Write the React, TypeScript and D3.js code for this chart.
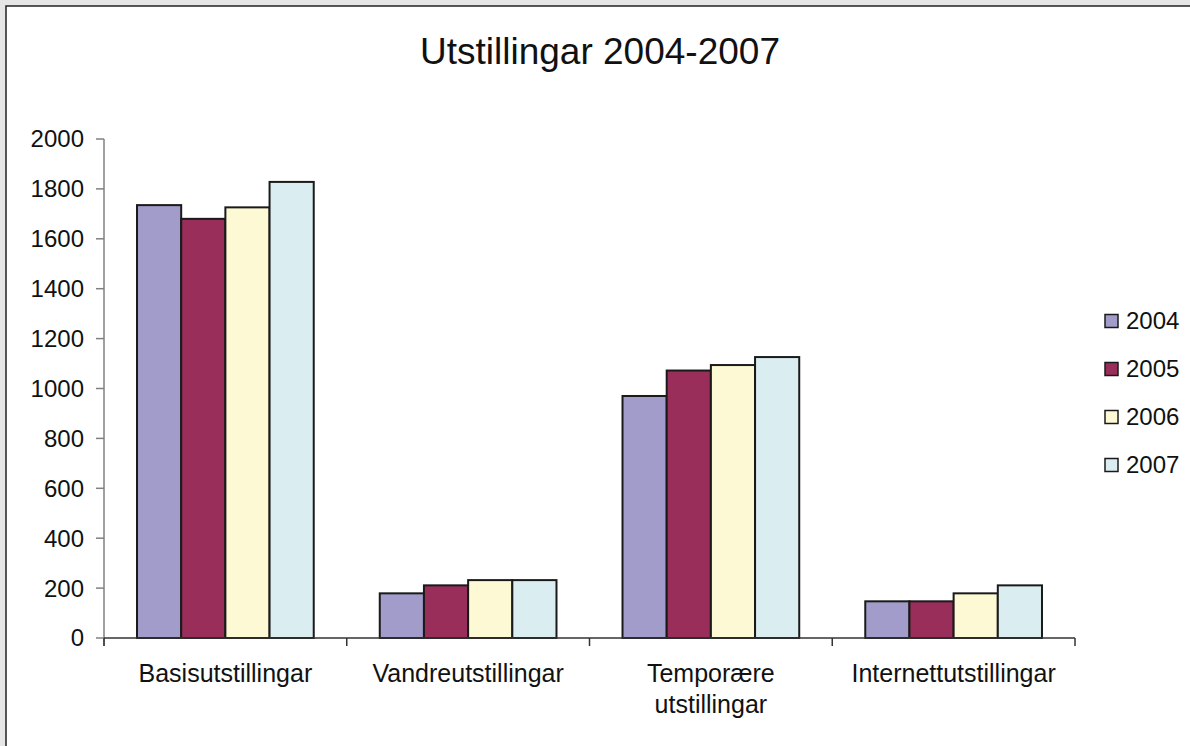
import React from 'react';
import * as d3 from 'd3';

const categories = ['Basisutstillingar', 'Vandreutstillingar', 'Temporære utstillingar', 'Internettutstillingar'];
const categoryLines = [['Basisutstillingar'], ['Vandreutstillingar'], ['Temporære', 'utstillingar'], ['Internettutstillingar']];
const years = ['2004', '2005', '2006', '2007'];
const values2004 = [1735, 179, 970, 147];
const values2005 = [1680, 211, 1072, 147];
const values2006 = [1726, 232, 1094, 179];
const values2007 = [1828, 232, 1126, 211];
const yTicks = [0, 200, 400, 600, 800, 1000, 1200, 1400, 1600, 1800, 2000];
const colors = ['#a19cc9', '#992e5a', '#fdf9d5', '#daedf0'];

const W = 1190;
const H = 746;
const FONT = '"Liberation Sans", Arial, sans-serif';

export default function App() {
  const series = [values2004, values2005, values2006, values2007];

  const x = d3.scaleBand<string>()
    .domain(categories)
    .range([104, 1075])
    .paddingInner(0.272)
    .paddingOuter(0.136);
  const xi = d3.scaleBand<string>().domain(years).range([0, x.bandwidth()]);
  const y = d3.scaleLinear().domain([0, 2000]).range([638, 139]);

  const step = x.step();
  const axisTicksX = d3.range(categories.length + 1).map(i => 104 + i * step);

  return (
    <svg width={W} height={H} style={{ position: 'absolute', left: 0, top: 0, display: 'block' }} fontFamily={FONT}>
      <rect x={0} y={0} width={W} height={H} fill="#e6e6e6" />
      <rect x={6} y={6} width={W + 20} height={H + 20} fill="#fff" stroke="#222" strokeWidth={1.5} />

      <text x={600} y={64} textAnchor="middle" fontSize={37} fill="#111">Utstillingar 2004-2007</text>

      {/* y axis */}
      <line x1={104} x2={104} y1={y(2000)} y2={y(0) + 8} stroke="#808080" strokeWidth={1.5} />
      {yTicks.map(t => (
        <g key={t}>
          <line x1={96} x2={104} y1={y(t)} y2={y(t)} stroke="#808080" strokeWidth={1.5} />
          <text x={84} y={y(t)} dy="0.35em" textAnchor="end" fontSize={24} fill="#111">{t}</text>
        </g>
      ))}

      {/* bars */}
      {categories.map((c, ci) => (
        <g key={c} transform={`translate(${x(c)},0)`}>
          {years.map((yr, si) => (
            <rect
              key={yr}
              x={xi(yr)}
              y={y(series[si][ci])}
              width={xi.bandwidth()}
              height={y(0) - y(series[si][ci])}
              fill={colors[si]}
              stroke="#1a1a1a"
              strokeWidth={2}
            />
          ))}
        </g>
      ))}

      {/* x axis */}
      <line x1={104} x2={1075} y1={y(0)} y2={y(0)} stroke="#333" strokeWidth={1.5} />
      {axisTicksX.map((tx, i) => (
        <line key={i} x1={tx} x2={tx} y1={y(0)} y2={y(0) + 8} stroke="#333" strokeWidth={1.5} />
      ))}
      {categories.map((c, ci) => (
        <text key={c} x={(x(c) ?? 0) + x.bandwidth() / 2} y={682} textAnchor="middle" fontSize={25} fill="#111">
          {categoryLines[ci].map((ln, li) => (
            <tspan key={li} x={(x(c) ?? 0) + x.bandwidth() / 2} dy={li === 0 ? 0 : 31}>{ln}</tspan>
          ))}
        </text>
      ))}

      {/* legend */}
      {years.map((yr, si) => {
        const cy = 321 + si * 48;
        return (
          <g key={yr}>
            <rect x={1105} y={cy - 6.5} width={13} height={13} fill={colors[si]} stroke="#1a1a1a" strokeWidth={1.5} />
            <text x={1126} y={cy} dy="0.35em" fontSize={24} fill="#111">{yr}</text>
          </g>
        );
      })}
    </svg>
  );
}
